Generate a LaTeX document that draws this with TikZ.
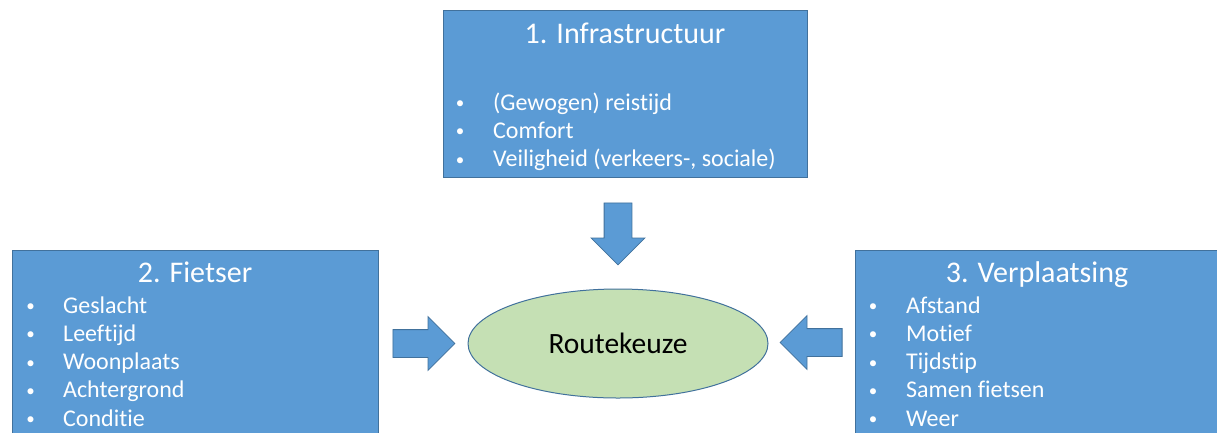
\documentclass[tikz,border=0pt]{standalone}
\usepackage{fontspec}
\setmainfont{Carlito}[Ligatures={NoCommon}]
\usepackage{tikz}
\usetikzlibrary{shapes.geometric,shapes.arrows,calc}
\definecolor{boxblue}{HTML}{5B9BD5}
\definecolor{boxline}{HTML}{41719C}
\definecolor{routegreen}{HTML}{C5E0B4}
\tikzset{
  factorbox/.style={rectangle, draw=boxline, fill=boxblue, line width=1pt, inner sep=0pt},
  boxtitle/.style={anchor=base, inner sep=0pt, text=white, font=\fontsize{30}{36}\selectfont},
  bulletdot/.style={anchor=base, inner sep=0pt, text=white, font=\fontsize{17}{20}\selectfont},
  bullettext/.style={anchor=base west, inner sep=0pt, text=white, font=\fontsize{24}{28}\selectfont},
  choice/.style={ellipse, draw=boxline, fill=routegreen, line width=1pt, inner sep=0pt,
                 minimum width=300pt, minimum height=109pt, font=\fontsize{29.5}{35}\selectfont},
  blockarrow/.style={single arrow, draw=boxline, fill=boxblue, line width=0.8pt,
                     inner xsep=0pt, inner ysep=13.5pt, minimum height=62pt,
                     single arrow head extend=13pt, anchor=tail},
}

\begin{document}
\begin{tikzpicture}[x=1pt, y=-1pt]
  \clip (0,0) rectangle (1217,432);

  % the three boxes and the choice in the middle
  \node[factorbox, minimum width=364pt, minimum height=167pt] (infra) at (625,93.5) {};
  \node[factorbox, minimum width=366pt, minimum height=195pt] (fiets) at (195,347.5) {};
  \node[factorbox, minimum width=364pt, minimum height=195pt] (verpl) at (1037,347.5) {};
  \node[choice] (route) at (618,343.5) {Routekeuze};

  \node[boxtitle] (infraTitle) at (625,43) {1. Infrastructuur};
  \node[boxtitle] (fietsTitle) at (195,282) {2. Fietser};
  \node[boxtitle] (verplTitle) at (1037,282) {3. Verplaatsing};

  % bullet lists
  \foreach \txt [count=\i from 0] in {{(Gewogen) reistijd}, Comfort, {Veiligheid (verkeers-, sociale)}} {
    \node[bulletdot] (infraDot\i) at (460, {108.5+28.3*\i}) {\textbullet};
    \node[bullettext] (infraItem\i) at (493, {110+28.3*\i}) {\txt};
  }
  \foreach \txt [count=\i from 0] in {Geslacht, Leeftijd, Woonplaats, Achtergrond, Conditie} {
    \node[bulletdot] (fietsDot\i) at (30.5, {311.5+28.3*\i}) {\textbullet};
    \node[bullettext] (fietsItem\i) at (63, {313+28.3*\i}) {\txt};
  }
  \foreach \txt [count=\i from 0] in {Afstand, Motief, Tijdstip, Samen fietsen, Weer} {
    \node[bulletdot] (verplDot\i) at (873, {311.5+28.3*\i}) {\textbullet};
    \node[bullettext] (verplItem\i) at (906, {313+28.3*\i}) {\txt};
  }

  % block arrows into the choice
  \node[blockarrow, rotate=-90] (arrInfra) at ($(route.north |- infra.south)+(0,25)$) {};
  \node[blockarrow] (arrFiets) at ($(route.west -| fiets.east)+(14,0)$) {};
  \node[blockarrow, rotate=180] (arrVerpl) at ($(route.east -| verpl.west)+(-12,-1)$) {};
\end{tikzpicture}
\end{document}
